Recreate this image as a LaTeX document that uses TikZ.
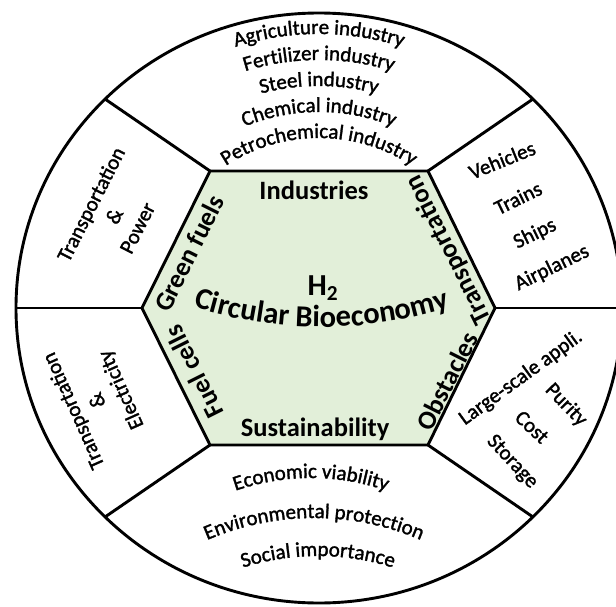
\documentclass[tikz,border=0pt]{standalone}
\usepackage{fontspec}
\setmainfont{Carlito}
\newfontfamily\heavyfamily[FakeBold=1.5]{Carlito}
\usetikzlibrary{decorations.text}
\definecolor{hexgreen}{HTML}{E2EFD9}
\newcommand{\outerfont}{\heavyfamily\fontsize{21}{26}\selectfont}
\newcommand{\innerfont}{\bfseries\fontsize{26.5}{26.5}\selectfont}
\newcommand{\corefont}{\bfseries\fontsize{30.5}{30.5}\selectfont}

\begin{document}
\begin{tikzpicture}[x=1pt, y=1pt, line width=2.9pt,
    outer/.style={font=\outerfont, align=center, inner sep=0pt},
    inner/.style={font=\innerfont, inner sep=0pt},
    curved/.style={decorate, decoration={text along path, text align=center, text={#1}}}]
  \useasboundingbox (-319,-298) rectangle (297,308);
  \clip (-319,-298) rectangle (297,308);

  % hexagon corners and rim points
  \coordinate (hexL) at (-177,0);
  \coordinate (hexTL) at (-109,137);
  \coordinate (hexTR) at (109,137);
  \coordinate (hexR) at (176,0);
  \coordinate (hexBR) at (109,-137);
  \coordinate (hexBL) at (-109,-137);
  \coordinate (rimL) at (-303,0);
  \coordinate (rimTL) at (-214,209);
  \coordinate (rimTR) at (214,209);
  \coordinate (rimR) at (303,0);
  \coordinate (rimBR) at (214,-209);
  \coordinate (rimBL) at (-214,-209);

  \filldraw[fill=hexgreen] (hexL) -- (hexTL) -- (hexTR) -- (hexR) -- (hexBR) -- (hexBL) -- cycle;
  \draw (0,0) ellipse [x radius=303, y radius=295];
  \draw (hexL) -- (rimL);
  \draw (hexTL) -- (rimTL);
  \draw (hexTR) -- (rimTR);
  \draw (hexR) -- (rimR);
  \draw (hexBR) -- (rimBR);
  \draw (hexBL) -- (rimBL);

  % centre
  \node[inner, font=\corefont] (htwo) at (4,20) {H\textsubscript{2}};
  \path[curved={|\corefont|Circular Bioeconomy}] (3,401) ++(250:420) arc[start angle=250, end angle=290, radius=420];
  \node[inner] (indus) at (-5,118) {Industries};
  \node[inner, anchor=base] (sust) at (-4,-128) {Sustainability};
  \node[inner, rotate=63.4] (green) at (-130,55) {Green fuels};
  \node[inner, rotate=116.6] (fuel) at (-125,-64) {Fuel cells};
  \node[inner, rotate=116.6] (trans) at (130,58) {Transportation};
  \node[inner, rotate=63.4] (obst) at (128,-73) {Obstacles};

  % top sector
  \path[curved={|\outerfont|Agriculture industry}] (170:274) arc[start angle=170, end angle=10, radius=274];
  \path[curved={|\outerfont|Fertilizer industry}] (170:248) arc[start angle=170, end angle=10, radius=248];
  \path[curved={|\outerfont|Steel industry}] (170:222) arc[start angle=170, end angle=10, radius=222];
  \path[curved={|\outerfont|Chemical industry}] (170:196) arc[start angle=170, end angle=10, radius=196];
  \path[curved={|\outerfont|Petrochemical industry}] (170:170) arc[start angle=170, end angle=10, radius=170];

  % bottom sector
  \path[curved={|\outerfont|Economic viability}] (-8,-400) ++(140:230) arc[start angle=140, end angle=40, radius=230];
  \path[curved={|\outerfont|Environmental protection}] (-5,-480) ++(140:270) arc[start angle=140, end angle=40, radius=270];
  \path[curved={|\outerfont|Social importance}] (-1,-495) ++(140:247) arc[start angle=140, end angle=40, radius=247];

  % left sectors
  \node[outer, rotate=63] (power) at (-205,92) {Transportation\\\&\\Power};
  \node[outer, rotate=114] (elec) at (-221,-92) {Transportation\\\&\\Electricity};

  % right sectors
  \node[outer, rotate=22] (vehicles) at (183,148) {Vehicles};
  \node[outer, rotate=26] (trains) at (199,110) {Trains};
  \node[outer, rotate=26] (ships) at (216,74) {Ships};
  \node[outer, rotate=26] (planes) at (233,40) {Airplanes};
  \node[outer, rotate=36] (large) at (202,-70) {Large-scale appli.};
  \node[outer, rotate=-46] (purity) at (247,-97) {Purity};
  \node[outer, rotate=-43] (cost) at (213,-119) {Cost};
  \node[outer, rotate=-47] (storage) at (193,-154) {Storage};
\end{tikzpicture}
\end{document}
